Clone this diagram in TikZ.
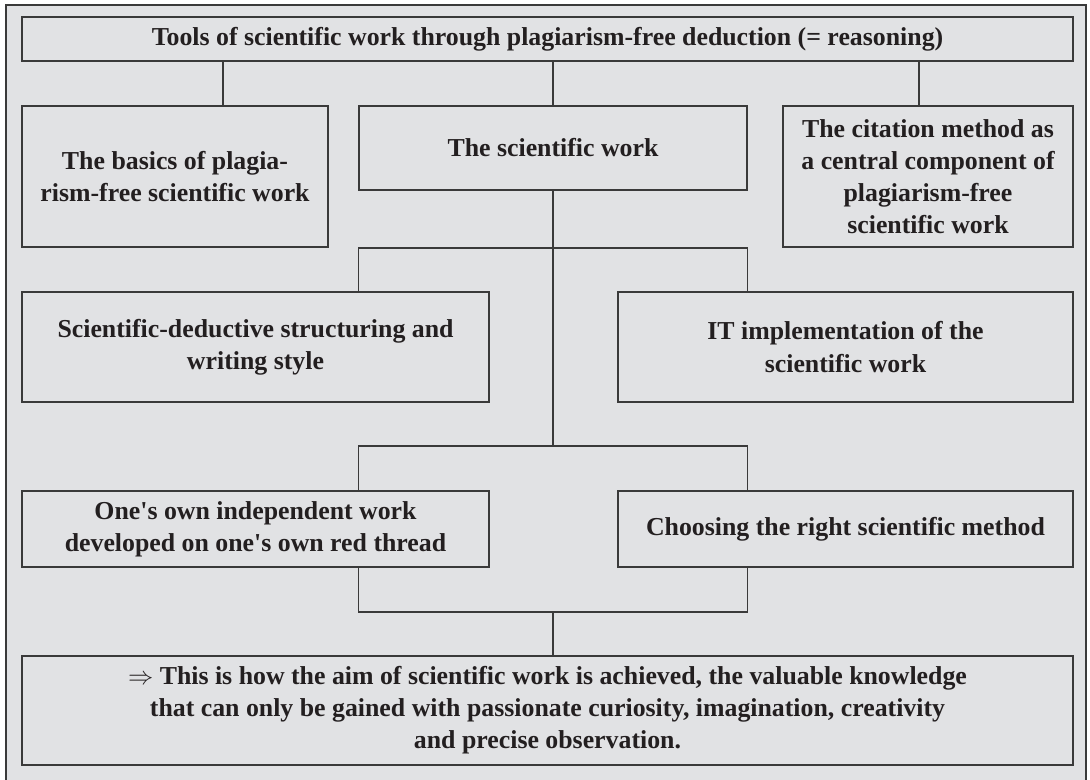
\documentclass[tikz,border=0pt]{standalone}
\usepackage{fontspec}
\setmainfont{Liberation Serif}[Ligatures=TeXOff]
\usepackage{color}
\definecolor{panel}{HTML}{E1E2E4}
\definecolor{rule}{HTML}{3A3A3A}
\definecolor{ink}{HTML}{231F20}

\begin{document}
\begin{tikzpicture}[x=0.02cm,y=-0.02cm,
    box/.style={draw=rule,line width=0.8pt,align=center,text=ink,inner sep=0pt,
      font=\bfseries\fontsize{14.7}{18.3}\selectfont},
    wire/.style={draw=rule,line width=0.8pt}]
    \useasboundingbox (0,0) rectangle (1090,780);
    % grey panel behind everything
    \draw[rule,line width=0.8pt,fill=panel] (6,5) rectangle (1086,800);

    % the boxes, placed at their centres
    \node[box,minimum width=21.02cm,minimum height=0.88cm] (title) at (547.5,39)
        {Tools of scientific work through plagiarism-free deduction (= reasoning)};
    \node[box,minimum width=6.12cm,minimum height=2.82cm] (basics) at (175,176.5)
        {The basics of plagia-\\rism-free scientific work};
    \node[box,minimum width=7.76cm,minimum height=1.68cm] (sci) at (553,148)
        {The scientific work};
    \node[box,minimum width=5.8cm,minimum height=2.82cm] (cite) at (928,176.5)
        {The citation method as\\a central component of\\plagiarism-free\\scientific work};
    \node[box,minimum width=9.34cm,minimum height=2.2cm] (deduct) at (255.5,347)
        {Scientific-deductive structuring and\\writing style};
    \node[box,minimum width=9.1cm,minimum height=2.2cm] (itwork) at (845.5,347)
        {IT implementation of the\\scientific work};
    \node[box,minimum width=9.34cm,minimum height=1.52cm] (own) at (255.5,529)
        {One's own independent work\\developed on one's own red thread};
    \node[box,minimum width=9.1cm,minimum height=1.52cm] (method) at (845.5,529)
        {Choosing the right scientific method};
    \node[box,minimum width=21.02cm,minimum height=2.18cm] (aim) at (547.5,710.5)
        {$\Rightarrow$ This is how the aim of scientific work is achieved, the valuable knowledge\\
         that can only be gained with passionate curiosity, imagination, creativity\\
         and precise observation.};

    % junctions on the spine
    \coordinate (busA) at (553,248);
    \coordinate (busB) at (553,446);
    \coordinate (busC) at (553,612);

    % title down to the first row
    \foreach \xx/\target in {223/basics,553/sci,919/cite}{
        \draw[wire] (\xx,0 |- title.south) -- (\xx,0 |- \target.north);
      }
    % the spine
    \draw[wire] (sci.south) -- (busB);
    \draw[wire] (busC) -- (busC |- aim.north);
    \foreach \bus/\target in {busA/deduct,busB/own}{
        \draw[wire] (sci.south west |- \bus) -- (sci.south east |- \bus);
        \foreach \side in {west,east}{
            \draw[wire] (sci.south \side |- \bus) -- (sci.south \side |- \target.north);
          }
      }
    % third row joins again
    \draw[wire] (sci.south west |- busC) -- (sci.south east |- busC);
    \foreach \side in {west,east}{
        \draw[wire] (sci.south \side |- own.south) -- (sci.south \side |- busC);
      }
\end{tikzpicture}
\end{document}
